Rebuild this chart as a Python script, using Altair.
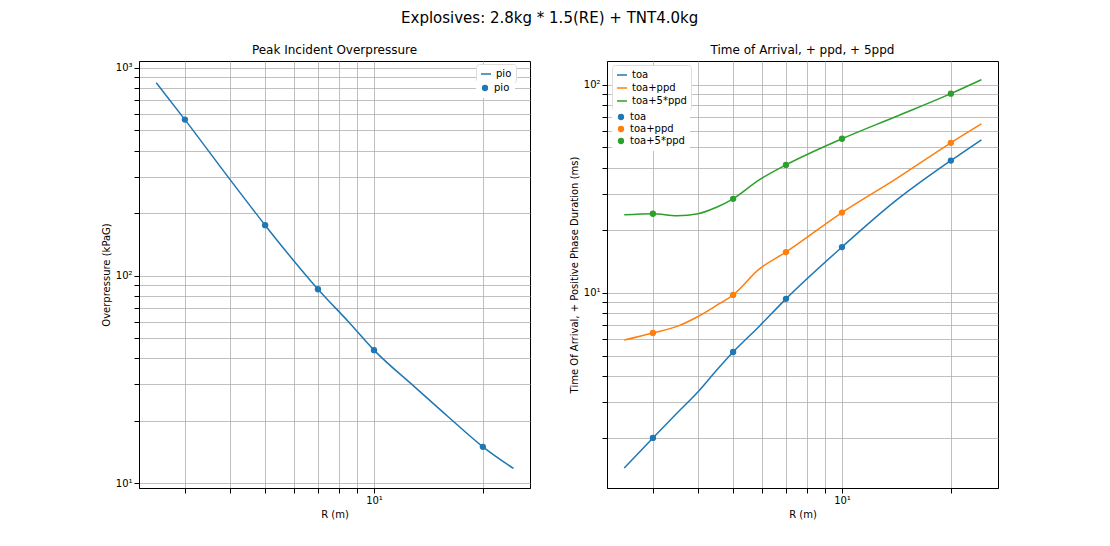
import altair as alt
import pandas as pd

# curve samples
r_line = [2.5, 3, 4, 5, 6, 7, 8.5, 10, 13, 16, 20, 24.3]
pio_line = [848, 564, 290, 175, 118, 86, 60, 43.8, 29, 21, 15.0, 11.8]
r_pts = [3, 5, 7, 10, 20]
pio_pts = [564, 175, 86, 43.8, 15.0]

r_line2 = [2.5, 3, 3.5, 4, 4.5, 5, 5.9, 7, 10, 14, 20, 24.3]
toa_line = [1.44, 2.01, 2.65, 3.35, 4.25, 5.2, 6.9, 9.36, 16.6, 27.5, 43.2, 54.4]
ppd_line = [5.94, 6.42, 6.9, 7.7, 8.7, 9.78, 13.0, 15.7, 24.3, 35, 52.6, 64.9]
ppd5_line = [23.7, 24.0, 23.5, 24.0, 25.8, 28.3, 34.9, 41.2, 55, 70, 90.6, 105.7]
toa_pts = [2.01, 5.2, 9.36, 16.6, 43.2]
ppd_pts = [6.42, 9.78, 15.7, 24.3, 52.6]
ppd5_pts = [24.0, 28.3, 41.2, 55, 90.6]

series = ["toa", "toa+ppd", "toa+5*ppd"]
colors = ["#1f77b4", "#ff7f0e", "#2ca02c"]

xticks = [3, 4, 5, 6, 7, 8, 9, 10, 20]
yticks_left = [10, 20, 30, 40, 50, 60, 70, 80, 90, 100, 200, 300, 400, 500, 600, 700, 800, 900, 1000]
yticks_right = [2, 3, 4, 5, 6, 7, 8, 9, 10, 20, 30, 40, 50, 60, 70, 80, 90, 100]

sup = "datum.value == 1000 ? '10³' : datum.value == 100 ? '10²' : datum.value == 10 ? '10¹' : ''"

def xenc():
    return alt.X("r:Q").scale(type="log", domain=[2.24, 27], nice=False).axis(
        values=xticks, labelExpr=sup, title="R (m)", grid=True, gridColor="#b0b0b0")

left_lines = pd.DataFrame({"r": r_line, "v": pio_line, "s": "pio"})
left_pts = pd.DataFrame({"r": r_pts, "v": pio_pts, "s": "pio"})
ly = alt.Y("v:Q").scale(type="log", domain=[9.5, 1080], nice=False).axis(
    values=yticks_left, labelExpr=sup, title="Overpressure (kPaG)", grid=True, gridColor="#b0b0b0")

l1 = alt.Chart(left_lines).mark_line(interpolate="monotone", clip=True, strokeWidth=1.5).encode(
    xenc(), ly,
    color=alt.Color("s:N").scale(domain=["pio"], range=[colors[0]]).legend(
        title=None, orient="none", legendX=337, legendY=3, symbolType="stroke", symbolStrokeWidth=1.5))
l2 = alt.Chart(left_pts).mark_point(filled=True, size=40, opacity=1).encode(
    xenc(), ly,
    fill=alt.Fill("s:N").scale(domain=["pio"], range=[colors[0]]).legend(
        title=None, orient="none", legendX=337, legendY=18, symbolType="circle", symbolSize=40,
        strokeColor="white"))
left = alt.layer(l1, l2).resolve_scale(color="independent", fill="independent").properties(
    width=391, height=427, title="Peak Incident Overpressure")

rl = []
for s, vals in zip(series, [toa_line, ppd_line, ppd5_line]):
    rl.append(pd.DataFrame({"r": r_line2, "v": vals, "s": s}))
rp = []
for s, vals in zip(series, [toa_pts, ppd_pts, ppd5_pts]):
    rp.append(pd.DataFrame({"r": r_pts, "v": vals, "s": s}))
right_lines = pd.concat(rl)
right_pts = pd.concat(rp)
ry = alt.Y("v:Q").scale(type="log", domain=[1.155, 130], nice=False).axis(
    values=yticks_right, labelExpr=sup, title="Time Of Arrival, + Positive Phase Duration (ms)",
    grid=True, gridColor="#b0b0b0")

r1 = alt.Chart(right_lines).mark_line(interpolate="monotone", clip=True, strokeWidth=1.5).encode(
    xenc(), ry,
    color=alt.Color("s:N").scale(domain=series, range=colors).legend(
        title=None, orient="none", legendX=5, legendY=4, symbolType="stroke", symbolStrokeWidth=1.5))
r2 = alt.Chart(right_pts).mark_point(filled=True, size=40, opacity=1).encode(
    xenc(), ry,
    fill=alt.Fill("s:N").scale(domain=series, range=colors).legend(
        title=None, orient="none", legendX=5, legendY=47, symbolType="circle", symbolSize=40,
        strokeColor="white"))
right = alt.layer(r1, r2).resolve_scale(color="independent", fill="independent").properties(
    width=391, height=427, title="Time of Arrival, + ppd, + 5ppd")

chart = alt.hconcat(left, right, spacing=37).properties(
    title=alt.TitleParams("Explosives: 2.8kg * 1.5(RE) + TNT4.0kg", fontSize=15, fontWeight="normal",
                          anchor="middle", offset=18),
    padding={"left": 92, "top": 2, "right": 10, "bottom": 5},
).configure(font="DejaVu Sans").configure_title(
    fontSize=12, fontWeight="normal", color="black"
).configure_axis(
    labelColor="black", titleColor="black", titleFontWeight="normal", titleFontSize=10,
    labelFontSize=10, domainColor="black", tickColor="black", gridOpacity=0.8
).configure_legend(
    strokeColor="#dddddd", fillColor="white", padding=4, labelFontSize=10, rowPadding=2, cornerRadius=3
).configure_view(stroke="black")

chart.save("out.html", embed_options={"renderer": "svg", "actions": False})
